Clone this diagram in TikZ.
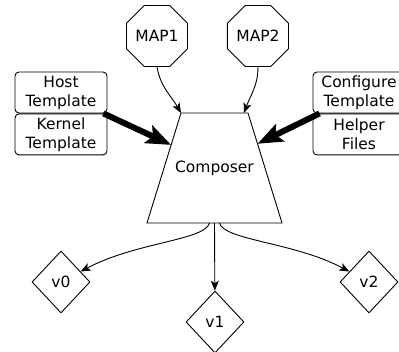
\documentclass[tikz,border=0pt]{standalone}
\usepackage{fontspec}
\setmainfont{DejaVu Sans}
\usetikzlibrary{positioning}
\usetikzlibrary{shapes.geometric}
\usetikzlibrary{arrows.meta, calc}

\begin{document}
\begin{tikzpicture}
  [
    x=1pt, y=1pt,
    line width=0.9pt,
    every node/.style={font=\fontsize{15.5}{19}\selectfont},
    align=center
  ]
    \tikzset{
      >={Stealth[length=10pt,width=8pt,inset=2.5pt]},
      base/.style = {draw=black, inner sep=0pt},
      mapstyle/.style = {base, regular polygon, regular polygon sides=8, minimum size=65pt},
      tplstyle/.style = {base, rectangle, rounded corners=4pt,
                         minimum width=92pt, minimum height=41pt},
      variantstyle/.style = {base, diamond, minimum width=58pt, minimum height=62pt},
      bigarrow/.style = {line width=6pt, -{Stealth[length=25pt,width=19pt,inset=5pt]}},
    }
    \useasboundingbox (0,0) rectangle (399,352);

    % composer trapezium
    \coordinate (cbl) at (147,129);
    \coordinate (ctl) at (181,239);
    \coordinate (ctr) at (248,239);
    \coordinate (cbr) at (282,129);
    \draw (cbl) -- (ctl) -- (ctr) -- (cbr) -- cycle;
    \node (composer) at (214.5,184) {Composer};
    \coordinate (cbot) at ($(cbl)!0.5!(cbr)$);

    \node (map1) [mapstyle] at (157,316) {MAP1};
    \node (map2) [mapstyle, right=39pt of map1] {MAP2};

    \node (host) [tplstyle] at (61,259.5) {Host\\Template};
    \node (kernel) [tplstyle, below=0pt of host] {Kernel\\Template};
    \node (configure) [tplstyle] at (359,259.5) {Configure\\Template};
    \node (helper) [tplstyle, below=0pt of configure] {Helper\\Files};

    \node (v0) [variantstyle] at (61,70) {v0};
    \node (v1) [variantstyle] at (215,30) {v1};
    \node (v2) [variantstyle] at (369,70) {v2};

    % inputs
    \draw[->] (map1.south) to[out=-80, in=120] (ctl);
    \draw[->] (map2.south) to[out=-90, in=70] ([xshift=-4pt]ctr);
    \draw[bigarrow] ([xshift=-4pt]host.south east) -- ($(cbl)!0.71!(ctl)$);
    \draw[bigarrow] ([xshift=7pt]configure.south west) -- ($(cbr)!0.72!(ctr)$);

    % variants
    \draw[->] ([xshift=-5pt]cbot) .. controls +(-105:18) and +(28:85) .. (v0);
    \draw[->] (cbot) -- (v1);
    \draw[->] ([xshift=5pt]cbot) .. controls +(-75:18) and +(152:85) .. (v2);
\end{tikzpicture}
\end{document}
